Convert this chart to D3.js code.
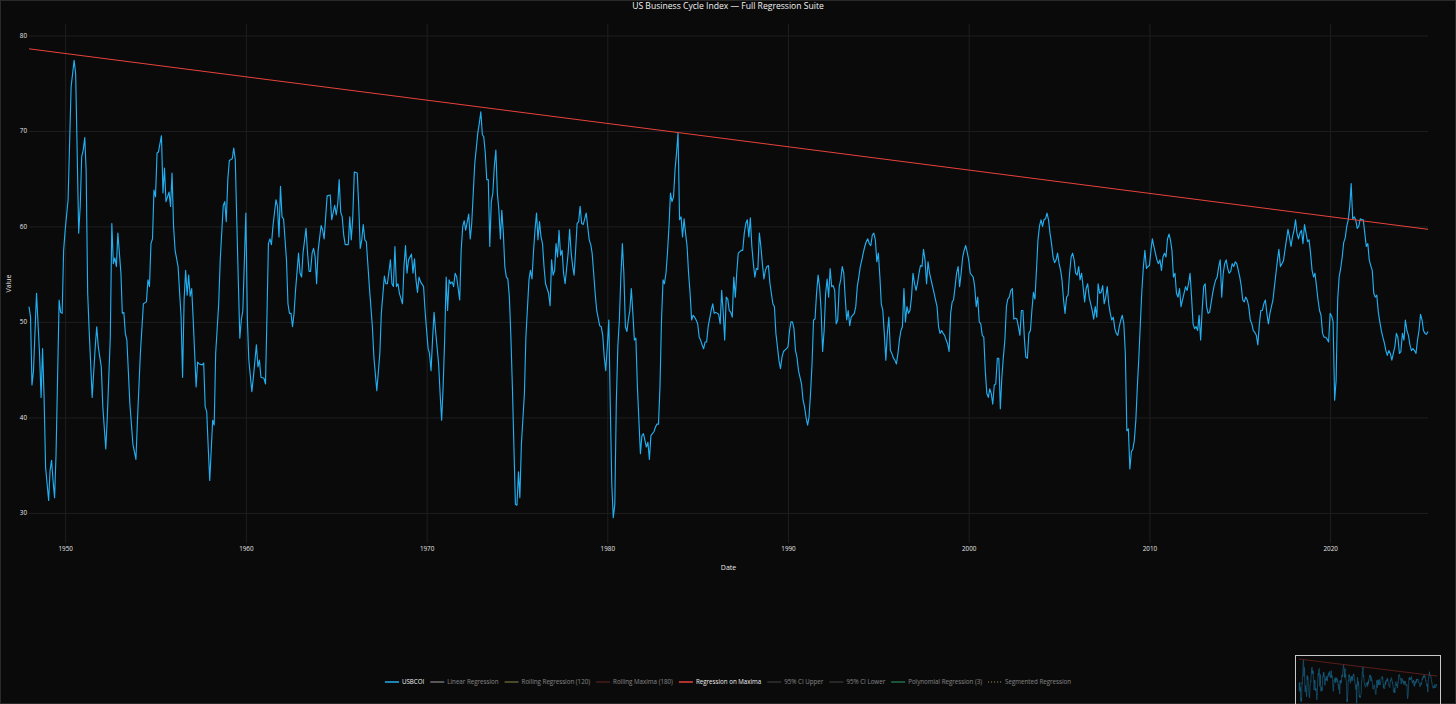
<!DOCTYPE html>
<html>
<head>
<meta charset="utf-8">
<style>
  html, body { margin: 0; padding: 0; background: #0a0a0a; }
  svg { display: block; }
  text { font-family: "Open Sans", sans-serif; }
</style>
</head>
<body>
<svg width="1456" height="704"></svg>
<script src="https://d3js.org/d3.v7.min.js"></script>
<script>
	// USBCOI readings: [months since 1948-01, value]
	const usbcoi = [
		[0,51.6],[1,50.5],[2,43.4],[3,44.9],[5,53.0],[7,46.7],[8,42.1],[9,47.2],[10,42.1],[11,34.8],[13,31.3],[14,34.4],[15,35.5],[16,33.4],[17,31.6],[18,36.2],[20,52.3],[21,51.0],[22,50.9],[23,57.5],
		[24,59.6],[26,62.8],[28,74.6],[30,77.4],[31,76.0],[32,67.7],[33,59.3],[34,62.1],[35,67.3],[36,68.0],[37,69.3],[38,65.9],[39,53.0],[40,49.1],[42,42.1],[44,47.4],[45,49.5],[46,47.4],[48,45.3],[49,41.1],
		[51,36.7],[52,40.0],[54,48.4],[55,60.3],[56,56.1],[57,56.7],[58,55.8],[59,59.3],[61,55.1],[62,50.9],[63,51.0],[64,48.8],[65,48.1],[67,41.4],[69,37.2],[71,35.6],[72,39.7],[74,46.7],[76,51.9],[78,52.1],
		[79,54.4],[80,53.7],[81,58.2],[82,58.7],[83,63.8],[84,63.1],[85,67.7],[86,67.8],[88,69.5],[89,63.5],[90,66.1],[91,62.6],[93,63.6],[94,62.1],[95,65.6],[96,60.0],[97,57.5],[99,55.8],[101,50.5],[102,44.2],
		[103,52.3],[104,55.4],[105,52.8],[106,54.9],[107,52.7],[108,53.5],[109,50.2],[111,43.2],[112,45.8],[113,45.6],[115,45.5],[116,45.7],[117,41.1],[118,40.6],[119,36.9],[120,33.4],[122,39.7],[123,39.2],[124,46.7],[126,51.9],
		[127,56.5],[129,62.2],[130,62.6],[131,60.5],[132,64.9],[133,66.9],[135,67.1],[136,68.2],[137,67.0],[138,60.7],[139,54.4],[140,48.3],[141,50.2],[142,51.2],[144,61.4],
		[145,50.2],[146,46.0],[148,42.7],[149,44.2],[151,47.6],[152,45.3],[153,46.0],[154,44.2],[156,44.1],[157,43.5],[158,50.2],[159,58.2],[160,58.7],[161,58.1],[162,60.0],[164,62.8],[165,62.1],[166,58.9],[167,64.2],[168,61.0],
		[169,60.8],[171,56.5],[172,51.9],[173,50.9],[174,50.9],[175,49.5],[176,50.9],[177,53.3],[179,57.2],[180,55.1],[181,54.7],[182,57.2],[184,59.8],[185,57.2],[186,55.3],[187,55.3],[188,57.2],[189,57.7],[190,56.8],[191,54.0],
		[192,57.5],[194,60.1],[195,59.6],[196,58.7],[197,61.0],[198,63.2],[200,63.3],[201,60.7],[203,62.2],[204,61.2],[205,62.4],[206,64.9],[207,61.5],[208,61.0],[209,59.1],[210,58.1],[212,58.1],[213,61.0],[214,58.6],[215,61.0],
		[216,65.7],[218,65.6],[219,62.1],[220,57.7],[221,58.6],[222,60.2],[223,58.6],[224,58.4],[225,56.1],[226,53.7],[228,49.5],[229,46.3],[231,42.8],[233,46.7],[234,50.9],[236,54.8],[237,54.0],[238,54.0],[240,56.5],[241,54.0],
		[242,53.7],[243,57.9],[244,53.7],[245,54.0],[246,53.0],[248,51.9],[249,55.8],[250,58.0],[251,55.1],[252,56.5],[254,57.1],[255,55.1],[256,56.6],[257,54.4],[258,53.1],[259,54.7],[260,54.2],[262,53.7],[263,51.2],[264,49.1],
		[265,47.2],[266,46.7],[267,44.9],[268,48.1],[269,51.0],[270,49.1],[272,45.6],[273,42.5],[274,39.7],[275,43.2],[276,48.1],[277,54.7],[278,51.2],[279,54.4],[280,54.0],[281,54.2],[282,53.7],[283,55.1],[284,54.7],[286,52.3],
		[287,57.5],[288,60.0],[289,60.6],[290,59.6],[292,61.3],[293,58.7],[294,60.3],[295,63.5],[296,66.6],[298,69.8],[299,70.8],[300,72.0],
		[301,69.6],[302,69.4],[303,67.7],[304,64.9],[305,64.9],[306,57.9],[307,62.6],[308,63.5],[309,66.3],[310,68.0],[311,63.5],[312,61.7],[313,58.7],[314,61.7],[315,59.3],[316,55.8],[317,54.7],[318,54.5],[319,52.6],[320,48.4],
		[321,43.2],[322,36.9],[323,30.9],[324,30.8],[325,34.3],[326,31.6],[327,37.2],[329,42.5],[330,48.4],[332,54.4],[333,55.4],[334,54.5],[335,57.3],[336,59.6],[337,61.4],[338,58.6],[339,60.5],[340,58.9],[341,58.2],[342,55.8],
		[343,54.0],[344,53.5],[345,53.0],[346,51.7],[347,56.5],[348,54.9],[349,55.4],[350,58.2],[351,56.8],[352,59.6],[353,57.0],[354,57.5],[355,55.1],[356,54.0],[357,55.6],[358,57.2],[359,59.7],[360,57.2],[361,55.8],[362,54.9],
		[363,57.5],[364,60.3],[365,60.5],[366,62.1],[367,60.3],[368,60.2],[370,61.4],[371,60.0],[372,58.6],[373,58.1],[374,57.2],[375,55.1],[376,53.0],[377,51.2],[379,49.6],[380,49.5],[381,48.6],[382,46.3],[383,44.9],[384,47.4],
		[385,50.2],[386,41.4],[387,33.0],[388,29.5],[389,30.9],[390,41.4],[391,47.4],[392,50.2],[393,54.7],[394,58.2],[395,55.1],[396,49.5],[397,49.0],[398,50.2],[399,51.2],[400,53.5],[401,50.9],[402,48.1],[403,48.3],[404,43.2],
		[405,39.7],[406,36.2],[407,38.1],[408,38.3],[410,36.9],[411,37.4],[412,35.6],[413,38.1],[414,38.3],[415,38.5],[416,39.0],[417,39.3],[418,39.3],[419,43.2],[420,50.2],[421,54.4],[422,54.0],[423,55.1],[424,57.2],[425,60.0],
		[426,63.5],[427,62.6],[428,63.1],[429,65.9],[430,67.7],[431,69.8],[432,60.7],[433,61.0],[434,58.9],[435,60.8],[436,59.3],[437,57.9],[438,55.1],[439,53.0],[440,50.2],[441,50.7],[442,50.5],[443,50.2],[444,49.8],[445,48.4],
		[446,48.1],[447,47.6],[448,47.2],[449,47.9],[450,47.9],[451,49.5],[453,51.2],[454,51.9],[455,50.9],[456,51.0],[458,50.8],[459,49.8],[460,53.3],[461,51.0],[462,48.1],
		[463,52.6],[464,52.4],[465,51.2],[466,51.0],[467,50.5],[468,54.7],[469,52.6],[470,55.1],[471,57.2],[473,57.5],[474,57.5],[475,59.3],[476,60.3],[477,60.7],[478,58.9],[479,60.9],[480,57.9],[481,56.1],[482,54.7],[483,55.6],
		[484,55.5],[485,59.3],[486,57.9],[487,56.1],[488,54.5],[489,55.4],[490,55.8],[491,55.9],[492,54.0],[494,51.9],[495,51.6],[496,48.8],[497,47.4],[498,46.0],[499,45.1],[500,46.3],[501,46.9],[503,47.2],[504,47.4],[505,49.1],
		[506,50.0],[507,50.0],[508,49.3],[509,47.0],[510,46.3],[511,44.9],[513,43.5],[514,41.8],[515,41.1],[516,40.0],[517,39.2],[518,40.0],[519,42.5],[520,45.6],[521,50.2],[522,50.3],[523,53.0],[524,54.9],[525,53.7],[526,51.2],
		[527,46.9],[528,49.1],[529,53.0],[530,54.5],[531,52.6],[532,55.6],[533,53.7],[534,53.8],[535,53.3],[536,49.8],[537,50.2],[538,53.7],[539,54.4],[540,55.8],[541,55.1],[542,52.6],[543,50.2],[544,51.2],[545,49.6],[546,50.5],
		[548,50.9],[549,51.6],[550,53.7],[551,54.7],[552,55.8],[553,56.5],[554,57.2],[555,57.9],[556,58.4],[557,58.7],[558,58.2],[559,58.0],[560,59.1],[561,59.3],[562,58.6],[563,56.3],[564,57.2],[565,54.7],[566,51.9],[567,51.2],
		[568,48.8],[569,46.0],[570,48.8],[571,50.5],[572,47.0],[573,46.7],[574,46.2],[575,46.0],[576,45.6],[577,46.7],[578,48.1],[579,49.1],[580,49.5],[581,53.5],[582,50.0],[583,51.6],[584,50.9],[585,51.2],[586,52.6],[587,55.1],
		[588,54.0],[589,53.3],[590,54.0],[591,55.1],[592,55.9],[593,55.8],[594,57.6],[595,56.5],[596,54.0],[597,56.3],[598,55.1],[599,54.4],[600,53.7],[601,53.0],[602,52.3],[603,51.6],[604,49.5],[605,48.8],[606,49.1],[607,48.8],
		[608,48.6],[609,48.1],[610,47.7],[611,46.9],[612,50.9],[613,52.1],[614,52.3],[615,53.7],[616,55.1],[617,55.8],[618,53.7],[619,55.1],[620,56.8],[621,57.5],[622,58.0],[623,57.3],
		[624,56.5],[625,55.1],[627,54.7],[628,53.7],[629,51.6],[630,52.6],[631,50.0],[632,49.8],[633,48.6],[634,48.4],[635,44.9],[636,42.5],[637,42.1],[638,43.0],[639,42.5],[640,41.4],[641,43.4],[642,43.5],[643,46.2],[644,46.2],
		[645,40.9],[646,44.2],[647,46.3],[648,48.1],[649,51.6],[650,52.4],[651,52.6],[652,53.3],[653,53.5],[654,50.3],[655,50.4],[656,50.3],[657,49.5],[658,48.6],[659,51.2],[660,51.2],[661,48.1],[662,46.3],[663,46.2],[664,48.8],
		[665,49.1],[666,51.2],[667,53.1],[668,52.4],[669,55.4],[670,58.6],[671,60.0],[672,60.7],[673,60.0],[674,60.7],[675,60.8],[676,61.4],[677,60.7],[678,59.3],[679,58.2],[680,56.8],[681,56.2],[682,56.5],[683,57.2],[684,56.1],
		[685,55.4],[686,54.4],[687,52.3],[688,50.9],[689,52.6],[690,52.8],[691,55.1],[692,56.8],[693,57.2],[694,56.5],[695,55.1],[696,54.9],[697,55.8],[698,54.4],[699,55.1],[700,53.7],[701,52.1],[702,53.5],[703,54.0],[704,52.6],
		[705,51.9],[706,51.2],[707,50.3],[708,51.6],[709,50.5],[710,54.0],[711,53.0],[712,53.1],[713,53.8],[714,51.9],[715,52.6],[716,53.7],[717,51.9],[718,50.9],[719,50.2],[720,50.5],[721,49.3],[722,48.8],[723,48.6],[724,49.5],
		[725,50.2],[726,50.7],[727,49.8],[728,46.7],[729,38.6],[730,38.8],[731,34.6],[732,36.4],[733,36.7],[734,37.6],[735,39.7],[736,43.2],[737,46.3],[738,49.8],[739,53.3],[740,55.8],[741,57.5],[742,55.6],[743,55.8],[744,55.9],
		[745,57.5],[746,58.7],[747,57.9],[748,57.2],[749,56.5],[750,56.1],[751,56.5],[752,55.4],[753,56.8],[754,57.2],[755,56.8],[756,58.7],[757,59.2],[758,58.6],[759,57.5],[760,54.7],[761,55.1],[762,53.0],[763,52.6],[764,53.5],
		[765,51.6],[766,52.3],[767,53.0],[768,53.7],[769,53.3],[770,54.0],[771,55.1],[772,52.6],[773,49.8],[774,49.3],[775,49.5],[776,49.1],[777,50.7],[778,48.1],[779,51.2],[780,53.7],[781,54.0],[782,51.6],
		[783,50.9],[784,51.0],[786,53.0],[787,53.8],[788,54.4],[789,54.7],[790,55.8],[791,56.5],[792,52.6],[793,55.1],[794,56.1],[795,56.5],[796,55.6],[797,55.1],[798,55.3],[799,56.1],[800,55.8],[801,56.3],[802,56.1],[804,54.7],
		[805,53.7],[806,52.3],[807,52.1],[808,52.6],[809,52.3],[810,51.6],[811,50.2],[812,49.8],[813,49.1],[814,48.9],[815,48.6],[816,47.6],[817,49.8],[818,51.2],[819,51.2],[820,51.9],[821,52.3],[822,50.9],[823,49.8],[824,50.9],
		[826,52.3],[827,53.7],[828,55.1],[829,56.5],[830,57.6],[831,55.8],[832,56.1],[833,56.4],[834,57.5],[835,58.6],[836,59.7],[837,58.9],[838,57.9],[839,58.9],[840,59.6],[841,60.7],[842,59.3],[843,58.7],[844,59.3],[845,59.6],
		[846,58.2],[847,60.2],[848,59.3],[849,58.4],[850,58.6],[851,57.2],[852,55.4],[853,54.7],[854,55.1],[855,53.7],[856,52.3],[857,51.2],[858,50.7],[859,48.8],[860,48.4],[861,48.4],[862,48.2],[863,47.9],[864,50.9],[865,50.6],
		[866,50.0],[867,41.8],[868,43.9],[869,52.3],[870,54.7],[871,55.6],[872,56.8],[873,58.3],[874,58.8],[875,60.0],[876,60.7],[877,62.1],[878,64.5],[879,60.8],[880,61.0],[881,60.7],[882,59.8],[883,60.0],[884,60.8],[885,60.7],
		[886,60.7],[887,59.3],[888,57.9],[889,58.2],[890,56.5],[891,55.9],[892,55.4],[893,53.0],[894,52.6],[895,52.8],[896,51.0],[897,50.0],[898,49.1],[899,48.4],[900,47.8],[901,47.0],[902,46.5],[903,47.0],[904,46.7],[905,46.0],
		[906,46.7],[907,47.4],[908,48.8],[909,48.4],[910,46.7],[911,46.9],[912,48.8],[913,48.1],[914,50.2],[915,49.1],[916,48.6],[917,47.6],[918,47.0],[919,47.2],[920,47.0],[921,46.7],[922,48.1],[923,49.1],[924,50.8],[925,50.2],
		[926,49.1],[927,48.8],[928,48.7],[929,49.0]
	];

	// Regression on Maxima: end points of the fitted line
	const maximaFit = [[0, 78.6], [929, 59.7]];

	const yTicks = [30, 40, 50, 60, 70, 80];
	const xTickYears = [1950, 1960, 1970, 1980, 1990, 2000, 2010, 2020];

	const legendNames = ["USBCOI", "Linear Regression", "Rolling Regression (120)", "Rolling Maxima (180)",
		"Regression on Maxima", "95% CI Upper", "95% CI Lower", "Polynomial Regression (3)", "Segmented Regression"];
	const legendShown = ["USBCOI", "Regression on Maxima"];

	// trace styles
	const traceStyle = {
		"USBCOI": { color: "#22aef0", dash: null },
		"Linear Regression": { color: "#d8d8d8", dash: null },
		"Rolling Regression (120)": { color: "#b4b05a", dash: null },
		"Rolling Maxima (180)": { color: "#8a2c2c", dash: null },
		"Regression on Maxima": { color: "#e8433b", dash: null },
		"95% CI Upper": { color: "#5a5a5a", dash: null },
		"95% CI Lower": { color: "#5a5a5a", dash: null },
		"Polynomial Regression (3)": { color: "#3ccf8e", dash: null },
		"Segmented Regression": { color: "#d6d27a", dash: "1,2" },
	};

	const svg = d3.select("svg");
	const W = +svg.attr("width");
	const H = +svg.attr("height");
	const margin = { top: 24, right: 28, bottom: 161, left: 29 }; // plot area
	const width = W - margin.left - margin.right;
	const height = H - margin.top - margin.bottom;

	const start = new Date(Date.UTC(1948, 0, 1));
	const toDate = (m) => d3.utcMonth.offset(start, m);
	const series = usbcoi.map((d) => ({ date: toDate(d[0]), value: d[1] }));
	const fit = maximaFit.map((d) => ({ date: toDate(d[0]), value: d[1] }));

	svg.append("rect").attr("width", W).attr("height", H).attr("fill", "#0a0a0a");
	svg.append("rect")
		.attr("x", 0.5).attr("y", 0.5)
		.attr("width", W - 1).attr("height", H - 1)
		.attr("fill", "none").attr("stroke", "#2a2a2a");

	const x = d3.scaleUtc()
		.domain(d3.extent(series, (d) => d.date))
		.range([margin.left, margin.left + width]);
	const y = d3.scaleLinear()
		.domain([26.85, 81.2])
		.range([margin.top + height, margin.top]);

	// grid + y ticks
	const yg = svg.append("g")
		.attr("transform", "translate(" + margin.left + ",0)")
		.call(d3.axisLeft(y).tickValues(yTicks).tickSize(-width).tickPadding(2).tickFormat(d3.format("d")));
	yg.select(".domain").remove();
	yg.selectAll("line").attr("stroke", "#1f1f1f");
	yg.selectAll("text").attr("fill", "#e6e6e6").style("font-size", "6.3px");

	const xg = svg.append("g")
		.attr("transform", "translate(0," + (margin.top + height) + ")")
		.call(d3.axisBottom(x)
			.tickValues(xTickYears.map((yr) => new Date(Date.UTC(yr, 0, 1))))
			.tickSize(-height).tickPadding(3.5)
			.tickFormat(d3.utcFormat("%Y")));
	xg.select(".domain").remove();
	xg.selectAll("line").attr("stroke", "#1f1f1f");
	xg.selectAll("text").attr("fill", "#e6e6e6").style("font-size", "6.3px");

	// axis titles + title
	svg.append("text")
		.attr("transform", "translate(11," + (margin.top + height / 2) + ") rotate(-90)")
		.attr("text-anchor", "middle").attr("fill", "#e6e6e6").style("font-size", "7px")
		.text("Value");
	svg.append("text")
		.attr("x", margin.left + width / 2).attr("y", 569.5)
		.attr("text-anchor", "middle").attr("fill", "#e6e6e6").style("font-size", "7px")
		.text("Date");
	svg.append("text")
		.attr("x", W / 2).attr("y", 9)
		.attr("text-anchor", "middle").attr("fill", "#f2f2f2").style("font-size", "8.6px")
		.text("US Business Cycle Index \u2014 Full Regression Suite");

	// series
	const line = d3.line().x((d) => x(d.date)).y((d) => y(d.value));
	const plot = svg.append("g");
	plot.append("path").datum(series)
		.attr("d", line).attr("fill", "none")
		.attr("stroke", traceStyle["USBCOI"].color).attr("stroke-width", 1.15)
		.attr("stroke-linejoin", "round");
	plot.append("path").datum(fit)
		.attr("d", line).attr("fill", "none")
		.attr("stroke", traceStyle["Regression on Maxima"].color).attr("stroke-width", 1);

	// legend
	const lg = svg.append("g").attr("transform", "translate(0,682)");
	let cx = 0;
	const items = legendNames.map((name) => {
		const g = lg.append("g").attr("opacity", legendShown.includes(name) ? 1 : 0.5);
		const st = traceStyle[name];
		g.append("line").attr("x1", 0).attr("x2", 14).attr("y1", 0).attr("y2", 0)
			.attr("stroke", st.color).attr("stroke-width", 1.5)
			.attr("stroke-dasharray", st.dash);
		const t = g.append("text").attr("x", 17).attr("dy", "0.35em")
			.attr("fill", "#f0f0f0").style("font-size", "6.2px").text(name);
		const w = 17 + t.node().getComputedTextLength();
		g.attr("transform", "translate(" + cx + ",0)");
		cx += w + 6;
		return g;
	});
	const total = cx - 6;
	lg.attr("transform", "translate(" + (W / 2 - total / 2) + ",682)");

	// mini overview, bottom right
	const mini = svg.append("g");
	mini.append("clipPath").attr("id", "miniclip")
		.append("rect").attr("x", 1296).attr("y", 656).attr("width", 144).attr("height", 60);
	const mx = x.copy().range([1299, 1437]);
	const my = y.copy().range([705.6, 656.7]);
	const mline = d3.line().x((d) => mx(d.date)).y((d) => my(d.value));
	const mg = mini.append("g").attr("clip-path", "url(#miniclip)").attr("opacity", 0.5);
	mg.append("path").datum(series).attr("d", mline).attr("fill", "none")
		.attr("stroke", traceStyle["USBCOI"].color).attr("stroke-width", 0.7);
	mg.append("path").datum(fit).attr("d", mline).attr("fill", "none")
		.attr("stroke", traceStyle["Regression on Maxima"].color).attr("stroke-width", 0.7);
	mini.append("rect").attr("x", 1295.5).attr("y", 655.5).attr("width", 145).attr("height", 60)
		.attr("fill", "none").attr("stroke", "#c8c8c8").attr("stroke-width", 1);
</script>
</body>
</html>
